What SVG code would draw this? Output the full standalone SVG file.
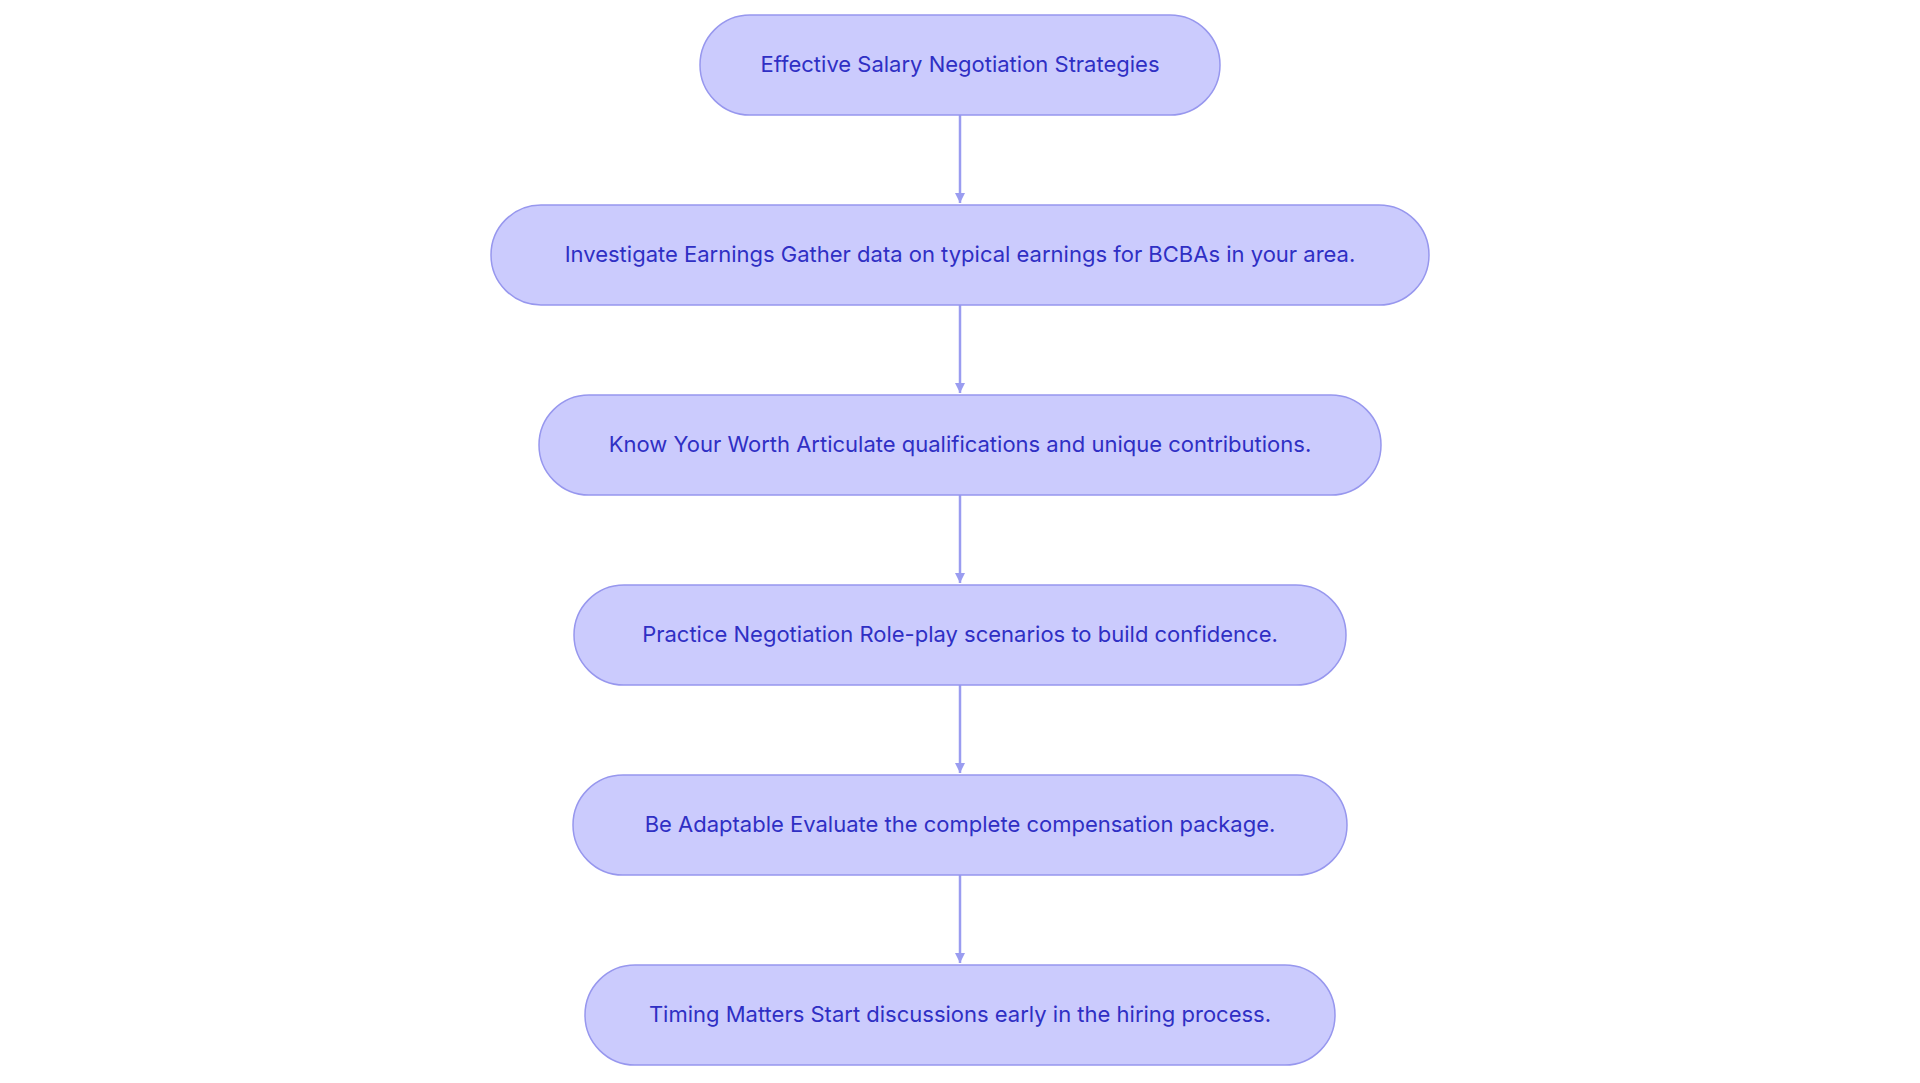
<svg xmlns="http://www.w3.org/2000/svg" width="1920" height="1083" viewBox="0 0 1920 1083">
<style>
.n{fill:#cbcbfd;stroke:#9797ee;stroke-width:1.5}
.t{font-family:Inter,"Noto Sans",sans-serif;font-size:22px;fill:#2f2fc4;text-anchor:middle;dominant-baseline:central}
.e{stroke:#9a9cf0;stroke-width:2.5;fill:none;marker-end:url(#a)}
</style>
<defs><marker id="a" viewBox="0 0 10 10" refX="10" refY="5" markerWidth="10" markerHeight="10" markerUnits="userSpaceOnUse" orient="auto"><path d="M0,0L10,5L0,10z" fill="#9a9cf0"/></marker></defs>
<rect width="1920" height="1083" fill="#fff"/>
<g id="edges">
<line class="e" x1="960" y1="115" x2="960" y2="203"/>
<line class="e" x1="960" y1="305" x2="960" y2="393"/>
<line class="e" x1="960" y1="495" x2="960" y2="583"/>
<line class="e" x1="960" y1="685" x2="960" y2="773"/>
<line class="e" x1="960" y1="875" x2="960" y2="963"/>
</g>
<g id="n1"><rect class="n" x="700" y="15" width="520" height="100" rx="50"/><text class="t" x="960" y="64">Effective Salary Negotiation Strategies</text></g>
<g id="n2"><rect class="n" x="491" y="205" width="938" height="100" rx="50"/><text class="t" x="960" y="254">Investigate Earnings Gather data on typical earnings for BCBAs in your area.</text></g>
<g id="n3"><rect class="n" x="539" y="395" width="842" height="100" rx="50"/><text class="t" x="960" y="444">Know Your Worth Articulate qualifications and unique contributions.</text></g>
<g id="n4"><rect class="n" x="574" y="585" width="772" height="100" rx="50"/><text class="t" x="960" y="634">Practice Negotiation Role-play scenarios to build confidence.</text></g>
<g id="n5"><rect class="n" x="573" y="775" width="774" height="100" rx="50"/><text class="t" x="960" y="824">Be Adaptable Evaluate the complete compensation package.</text></g>
<g id="n6"><rect class="n" x="585" y="965" width="750" height="100" rx="50"/><text class="t" x="960" y="1014">Timing Matters Start discussions early in the hiring process.</text></g>
</svg>
